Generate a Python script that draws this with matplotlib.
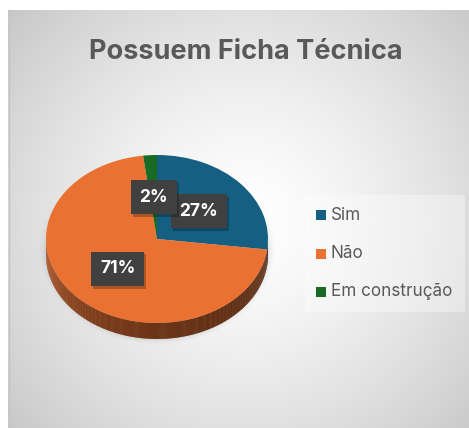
import numpy as np
import matplotlib
matplotlib.use("Agg")
import matplotlib.pyplot as plt
from matplotlib.patches import Rectangle, Polygon
from matplotlib.colors import to_rgb
import matplotlib.patheffects as pe

# ---- data ----
categories = ["Sim", "Não", "Em construção"]
values = [27, 71, 2]
colors = ["#156082", "#E97132", "#196B24"]
title = "Possuem Ficha Técnica"

W, H = 469, 428
DPI = 100
plt.rcParams['font.family'] = ['Inter', 'DejaVu Sans']

fig = plt.figure(figsize=(W / DPI, H / DPI), dpi=DPI)
fig.patch.set_facecolor('white')

# background axes in pixel coordinates
ax0 = fig.add_axes([0, 0, 1, 1])
ax0.set_xlim(0, W)
ax0.set_ylim(H, 0)
ax0.axis('off')

# radial gradient chart area
x0, y0 = 8, 10
xs = np.arange(x0, W) + 0.5
ys = np.arange(y0, H) + 0.5
XX, YY = np.meshgrid(xs, ys)
cx, cy = 245, 222
r = np.sqrt((XX - cx) ** 2 + (YY - cy) ** 2) / 320.0
b = 1.0 - 0.22 * np.clip(r, 0, 1.2) ** 1.4
img = np.dstack([b, b, b])
ax0.imshow(img, extent=(x0, W, H, y0), interpolation='bilinear', zorder=0, aspect='auto')
ax0.plot([x0 + 0.5, x0 + 0.5], [y0, H], color='#c4c4c4', lw=1, zorder=1)

# soft shadow under the pie
pcx, pcy, prx, pry = 157, 246, 113, 94
d = np.sqrt(((XX - pcx) / prx) ** 2 + ((YY - pcy) / pry) ** 2)
a = 0.32 * np.clip(1 - (d - 0.96) / 0.10, 0, 1) ** 2
a *= np.clip((YY - 200) / 60.0, 0, 1)
sh = np.zeros((len(ys), len(xs), 4))
sh[..., 0:3] = 0.35
sh[..., 3] = a
ax0.imshow(sh, extent=(x0, W, H, y0), interpolation='bilinear', zorder=2, aspect='auto')

# legend background
ax0.add_patch(Rectangle((305, 195), 160, 117, facecolor='white', alpha=0.35,
                        edgecolor='none', zorder=3))

# title
fig.text(246 / W, 1 - 59 / H, title, ha='center', va='baseline',
         fontsize=19.5, fontweight='bold', color='#595959')

# ---- pie axes ----
sx, sy = 111.0, 84.0      # px per unit
pcx2, pcy2 = 157.0, 239.0
xl = (-1.05, 1.05)
yl = (-1.3, 1.05)
left = (pcx2 + xl[0] * sx) / W
width = (xl[1] - xl[0]) * sx / W
bottom = (H - (pcy2 - yl[0] * sy)) / H
height = (yl[1] - yl[0]) * sy / H
ax = fig.add_axes([left, bottom, width, height])
ax.patch.set_alpha(0)

depth = 0.19

wedges, texts, autotexts = ax.pie(values, colors=colors, startangle=90,
                                  counterclock=False, autopct='%.0f%%',
                                  pctdistance=0.5, radius=1.0,
                                  wedgeprops=dict(linewidth=0, zorder=5))
ax.set_aspect('auto')
ax.set_xlim(*xl)
ax.set_ylim(*yl)
ax.axis('off')

def shade(phi):
    # phi in degrees (math angle), 180 = left, 270 = bottom, 360 = right
    t = (phi % 360 - 180) / 180.0
    return np.interp(t, [0, 0.2, 0.5, 0.8, 1.0], [0.76, 0.60, 0.46, 0.41, 0.40])

# side of the pie (front half only)
step = 0.5
for w, c in zip(wedges, colors):
    base = np.array(to_rgb(c))
    t1, t2 = w.theta1, w.theta2
    phis = np.arange(t1, t2 + 1e-9, step)
    if phis[-1] < t2:
        phis = np.append(phis, t2)
    for p1, p2 in zip(phis[:-1], phis[1:]):
        pm = 0.5 * (p1 + p2)
        if np.sin(np.radians(pm)) >= 0.0:
            continue
        seg = np.linspace(np.radians(p1), np.radians(p2 + 0.3), 3)
        top = np.column_stack([np.cos(seg), np.sin(seg)])
        bot = top.copy()
        bot[:, 1] -= depth
        poly = np.vstack([top, bot[::-1]])
        col = np.clip(base * shade(pm), 0, 1)
        ax.add_patch(Polygon(poly, closed=True, facecolor=col, edgecolor='none',
                             zorder=2))

# data labels
for t in autotexts:
    t.set_color('white')
    t.set_fontsize(12.5)
    t.set_fontweight('bold')
    t.set_zorder(12)
    t.set_bbox(dict(boxstyle='square,pad=0.5', facecolor='#404040',
                    edgecolor='none', linewidth=0))
    t.get_bbox_patch().set_path_effects([
        pe.SimplePatchShadow(offset=(1.5, -2.0), shadow_rgbFace='black', alpha=0.25),
        pe.Normal()])

# legend
ly0, lstep = 215, 38.5
for i, (cat, c) in enumerate(zip(categories, colors)):
    yc = ly0 + i * lstep
    ax0.add_patch(Rectangle((316, yc - 5), 10, 10, facecolor=c, edgecolor='none', zorder=5))
    ax0.text(331, yc, cat, ha='left', va='center', fontsize=12.3, color='#595959', zorder=5)

fig.savefig('out.png', dpi=DPI)
